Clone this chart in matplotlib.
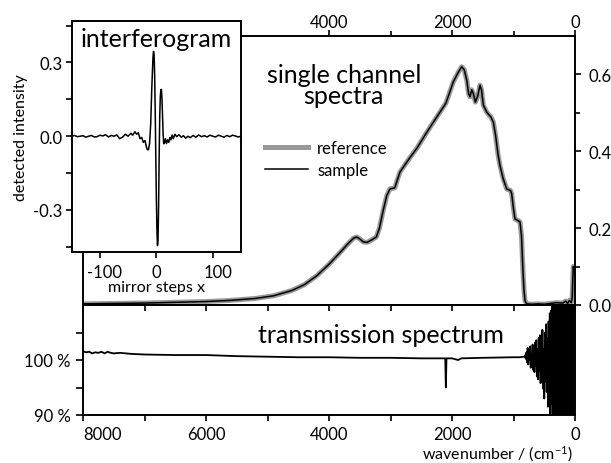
import numpy as np
import matplotlib
matplotlib.use('Agg')
import matplotlib.pyplot as plt
from matplotlib.transforms import ScaledTranslation

plt.rcParams['font.family'] = ['Lato', 'DejaVu Sans']
plt.rcParams['axes.unicode_minus'] = False
plt.rcParams['mathtext.fontset'] = 'custom'
plt.rcParams['mathtext.rm'] = 'Lato'
plt.rcParams['mathtext.default'] = 'regular'

# single channel spectra (wavenumber in cm^-1, intensity)
sc_wavenumber = [8000, 7500, 7000, 6500, 6000, 5600, 5200, 4900, 4600, 4400, 4200, 4000,
                 3800, 3700, 3600, 3550, 3500, 3440, 3380, 3300, 3230, 3180, 3120, 3060,
                 3010, 2930, 2880, 2846, 2700, 2575, 2400, 2195, 2100, 1978, 1900, 1843,
                 1800, 1760, 1730, 1707, 1680, 1653, 1620, 1580, 1545, 1520, 1491, 1460,
                 1436, 1400, 1370, 1328, 1290, 1250, 1220, 1170, 1111, 1050, 1030, 1000,
                 976, 930, 894, 870, 850, 830, 813, 786, 700, 600, 500, 400, 300, 200,
                 150, 120, 90, 60, 45, 35, 27, 20, 10, 0]
reference_intensity = [0.003, 0.004, 0.005, 0.007, 0.009, 0.012, 0.017, 0.024, 0.038, 0.053, 0.076, 0.106,
                       0.140, 0.158, 0.174, 0.177, 0.172, 0.164, 0.163, 0.170, 0.177, 0.200, 0.245, 0.285,
                       0.302, 0.305, 0.330, 0.346, 0.380, 0.407, 0.452, 0.502, 0.525, 0.581, 0.605, 0.620,
                       0.612, 0.585, 0.550, 0.542, 0.560, 0.550, 0.528, 0.545, 0.572, 0.560, 0.520, 0.510,
                       0.502, 0.495, 0.490, 0.476, 0.440, 0.390, 0.363, 0.330, 0.302, 0.298, 0.290, 0.250,
                       0.224, 0.220, 0.216, 0.180, 0.102, 0.040, 0.011, 0.003, 0.002, 0.003, 0.002, 0.004, 0.006, 0.005,
                       0.010, 0.004, 0.012, 0.006, 0.020, 0.070, 0.100, 0.090, 0.100, 0.095]
sample_intensity = [0.003, 0.004, 0.005, 0.007, 0.009, 0.012, 0.017, 0.024, 0.038, 0.053, 0.076, 0.106,
                    0.140, 0.158, 0.174, 0.177, 0.172, 0.164, 0.163, 0.170, 0.177, 0.200, 0.245, 0.285,
                    0.302, 0.305, 0.330, 0.346, 0.380, 0.407, 0.452, 0.502, 0.525, 0.581, 0.605, 0.620,
                    0.612, 0.585, 0.550, 0.542, 0.560, 0.550, 0.528, 0.545, 0.572, 0.560, 0.520, 0.510,
                    0.502, 0.495, 0.490, 0.476, 0.440, 0.390, 0.363, 0.330, 0.302, 0.298, 0.290, 0.250,
                    0.224, 0.220, 0.216, 0.180, 0.102, 0.040, 0.011, 0.003, 0.002, 0.003, 0.002, 0.004, 0.006, 0.005,
                    0.010, 0.004, 0.012, 0.006, 0.020, 0.070, 0.100, 0.090, 0.100, 0.095]

# transmission spectrum (%)
tr_wavenumber = [8000, 7950, 7900, 7850, 7800, 7750, 7700, 7650, 7600, 7550, 7500, 7400, 7200,
                 7000, 6500, 6000, 5500, 5000,
                 4500, 4000, 3500, 3000, 2500, 2110, 2100, 2090, 2000, 1900, 1850, 1500, 1000,
                 900, 830,
                 820, 810, 800, 790, 780, 770, 760, 750, 740, 730, 720, 710, 700, 690, 680,
                 670, 660, 650, 640, 630, 620, 610, 600, 590, 580, 570, 560, 550, 540, 530,
                 520, 510, 500, 490, 480, 470, 460, 450, 440, 430, 420, 410, 400, 390, 380,
                 370, 360, 350, 340, 330, 320, 310, 300, 290, 280, 270, 260, 250, 240, 230,
                 220, 210, 200, 190, 180, 170, 160, 150, 140, 130, 120, 110, 100, 90, 80,
                 70, 60, 50, 40, 30, 20, 10, 0]
transmission = [101.6, 101.4, 101.5, 101.2, 101.4, 101.3, 101.5, 101.2, 101.5, 101.3, 101.2, 101.3, 101.1,
                101.0, 100.9, 100.9, 100.7, 100.6,
                100.5, 100.5, 100.4, 100.4, 100.3, 100.3, 95.0, 100.3, 100.3, 100.0, 100.3, 100.4, 100.5,
                100.5, 100.6,
                100.6, 100.9, 100.2, 101.4, 99.6, 102.2, 99.2, 101.8, 100.0, 102.5, 98.6, 101.0, 99.0, 102.8, 98.2,
                101.5, 97.8, 103.2, 99.0, 103.6, 97.0, 102.0, 96.5, 104.0, 98.0, 104.5, 95.8, 103.0, 96.0, 105.5,
                94.8, 102.0, 93.0, 105.0, 96.0, 106.5, 94.2, 104.0, 91.5, 107.0, 93.5, 108.5, 88.0, 109.0, 92.0,
                114.0, 86.0, 112.0, 89.5, 116.0, 84.0, 111.0, 86.0, 118.0, 82.0, 113.0, 85.0, 120.0, 80.0, 115.0,
                83.0, 121.0, 78.0, 114.0, 86.0, 119.0, 79.0, 117.0, 84.0, 122.0, 77.0, 116.0, 81.0, 120.0, 79.0,
                118.0, 82.0, 121.0, 78.0, 115.0, 80.0, 119.0, 83.0]

# interferogram
mirror_steps = [-150, -145, -140, -135, -130, -125, -120, -115, -110, -105, -100, -95, -90, -85,
                -80, -75, -70, -65, -60, -55, -50, -45, -42, -38, -35, -32, -29, -26, -23, -20,
                -18, -16, -14, -12, -10, -8, -6, -5, -4, -3, -2, -1, 0, 1, 2, 3, 4, 5, 6, 7, 8,
                9, 10, 11, 12, 13, 14, 16, 18, 20, 22, 24, 26, 28, 30, 33, 36, 40, 44, 48, 52,
                56, 60, 65, 70, 75, 80, 85, 90, 95, 100, 105, 110, 115, 120, 125, 130, 135, 140,
                145, 150]
detected = [0.0, 0.003, -0.002, 0.0, 0.002, -0.004, 0.0, 0.003, -0.003, -0.002, 0.004, 0.001, 0.006, -0.003,
            0.003, 0.0, 0.005, -0.01, -0.004, 0.008, 0.0, 0.012, 0.004, 0.018, 0.008, 0.014, -0.01, -0.005, -0.025, -0.018,
            -0.04, -0.055, -0.055, -0.03, 0.05, 0.2, 0.32, 0.345, 0.33, 0.25, 0.1, -0.08, -0.25, -0.38, -0.445, -0.42, -0.28, -0.08, 0.08, 0.16, 0.19,
            0.19, 0.15, 0.08, 0.01, -0.03, -0.03, -0.01, -0.03, -0.015, -0.025, -0.005, -0.015, 0.005, -0.01, 0.008, -0.002, 0.006, -0.004, 0.002, -0.008,
            0.0, -0.006, 0.003, -0.004, 0.005, -0.002, 0.002, -0.003, 0.004, 0.0, -0.003, 0.004, 0.0, -0.004, 0.003, -0.002, 0.004, 0.001,
            -0.003, 0.0]

W, H = 611, 464
fig = plt.figure(figsize=(W / 100, H / 100), dpi=100)

ax_top = fig.add_axes([83 / W, 1 - 306 / H, 492 / W, 269 / H])
ax_bot = fig.add_axes([83 / W, 1 - 416 / H, 492 / W, 110 / H])
ax_in = fig.add_axes([71.7 / W, 1 - 252.7 / H, 169.3 / W, 231 / H])

for a in (ax_top, ax_bot, ax_in):
    for s in a.spines.values():
        s.set_linewidth(1.4)

# --- single channel spectra ---
ax_top.plot(sc_wavenumber, reference_intensity, color='#999999', lw=3.6, label='reference',
            solid_joinstyle='round')
ax_top.plot(sc_wavenumber, sample_intensity, color='black', lw=1.1, label='sample')
ax_top.set_xlim(8000, 0)
ax_top.set_ylim(0, 0.70)
ax_top.xaxis.tick_top()
ax_top.set_xticks([4000, 2000, 0])
ax_top.set_xticklabels(['4000', '2000', '0'])
ax_top.set_xticks([3000, 1000], minor=True)
ax_top.yaxis.tick_right()
ax_top.set_yticks([0, 0.2, 0.4, 0.6])
ax_top.set_yticklabels(['0.0', '0.2', '0.4', '0.6'])
ax_top.set_yticks([0.1, 0.3, 0.5], minor=True)
ax_top.tick_params(which='both', direction='out', width=1.2, labelsize=12)
ax_top.tick_params(which='major', length=4.5)
ax_top.tick_params(which='minor', length=3.5)
ax_top.tick_params(axis='x', pad=0)
ax_top.tick_params(axis='y', pad=5)
ax_top.text(0.53, 0.818, 'single channel\nspectra', transform=ax_top.transAxes,
            ha='center', va='center', fontsize=18, linespacing=0.92)
ax_top.legend(loc='upper left', bbox_to_anchor=(0.352, 0.645), frameon=False, fontsize=12,
              handlelength=2.6, handletextpad=0.55, labelspacing=0.35, borderpad=0)

# --- transmission spectrum ---
ax_bot.plot(tr_wavenumber, transmission, color='black', lw=1.3)
ax_bot.set_xlim(8000, 0)
ax_bot.set_ylim(90, 110)
ax_bot.set_xticks([8000, 6000, 4000, 2000, 0])
ax_bot.set_xticklabels(['8000', '6000', '4000', '2000', '0'])
ax_bot.set_xticks([7000, 5000, 3000, 1000], minor=True)
ax_bot.set_yticks([90, 95, 100, 105])
ax_bot.set_yticklabels(['90 %', '', '100 %', ''])
ax_bot.tick_params(which='both', direction='out', width=1.2, length=4.5, labelsize=12)
ax_bot.tick_params(axis='y', length=5, pad=4)
ax_bot.get_xticklabels()[0].set_horizontalalignment('left')
sec = ax_bot.secondary_xaxis('top')
sec.set_xticks([8000, 7000, 6000, 5000, 4000, 3000, 2000, 1000, 0])
sec.set_xticklabels([])
sec.tick_params(direction='in', length=4.5, width=1.2)
sec.spines['top'].set_visible(False)
ax_bot.text(0.606, 0.736, 'transmission spectrum', transform=ax_bot.transAxes,
            ha='center', va='center', fontsize=18)
fig.text(573 / W, 1 - 454 / H, 'wavenumber / (cm$^{-1}$)', ha='right', va='center', fontsize=11.5)

# --- interferogram inset ---
ax_in.set_facecolor('white')
ax_in.plot(mirror_steps, detected, color='black', lw=1.1)
ax_in.set_xlim(-150, 150)
ax_in.set_ylim(-0.47, 0.47)
ax_in.set_xticks([-100, 0, 100])
ax_in.set_xticklabels(['-100', '0', '100'])
ax_in.set_yticks([-0.3, 0, 0.3])
ax_in.set_yticklabels(['-0.3', '0.0', '0.3'])
ax_in.set_yticks([-0.45, -0.15, 0.15, 0.45], minor=True)
ax_in.tick_params(which='both', direction='out', width=1.2, length=4.5, labelsize=12, pad=2)
ax_in.tick_params(axis='x', pad=4)
shift = ScaledTranslation(5 / 100, 0, fig.dpi_scale_trans)
for i in (0, 2):
    lbl = ax_in.get_xticklabels()[i]
    lbl.set_transform(lbl.get_transform() + shift)
ax_in.set_xlabel('mirror steps x', fontsize=11.5, labelpad=0)
ax_in.set_ylabel('detected intensity', fontsize=11.5, labelpad=4)
ax_in.text(0.5, 0.925, 'interferogram', transform=ax_in.transAxes,
           ha='center', va='center', fontsize=18)

fig.savefig('out.png', dpi=100)
